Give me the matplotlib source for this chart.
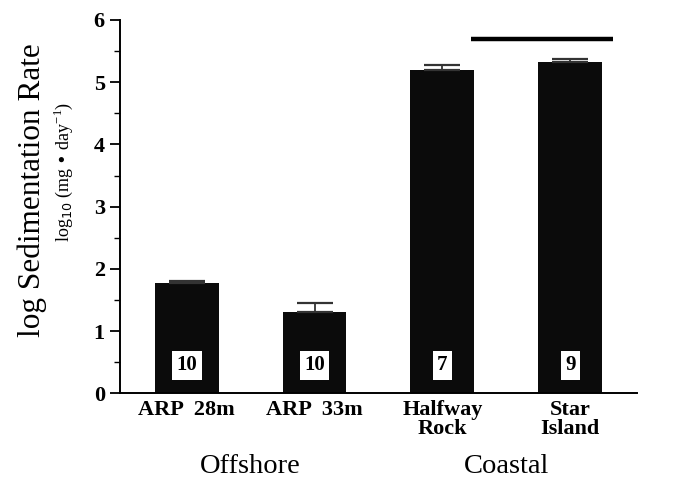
import matplotlib
matplotlib.use("Agg")
import matplotlib.pyplot as plt
from matplotlib.ticker import MultipleLocator

sites = ["ARP  28m", "ARP  33m", "Halfway\nRock", "Star\nIsland"]
means = [1.77, 1.31, 5.20, 5.33]
errors = [0.04, 0.14, 0.08, 0.05]
n_labels = ["10", "10", "7", "9"]
groups = ["Offshore", "Coastal"]
group_pos = [0.5, 2.5]
sig_span = [2.22, 3.33]
sig_y = 5.70

plt.rcParams['font.family'] = ['Liberation Serif', 'DejaVu Serif']

fig = plt.figure(figsize=(6.9, 4.87), dpi=100)
ax = fig.add_axes([0.174, 0.192, 0.749, 0.767])

x = list(range(len(sites)))
ax.bar(x, means, width=0.5, color='#0b0b0b', zorder=2)
ax.errorbar(x, means, yerr=[[0]*len(errors), errors], fmt='none',
            ecolor='#333333', elinewidth=1.3, capsize=13, capthick=1.6, zorder=3)

for xi, lab in zip(x, n_labels):
    ax.text(xi, 0.45, lab, ha='center', va='center', fontsize=15, fontweight='bold',
            bbox=dict(boxstyle='square,pad=0.22', fc='white', ec='none'), zorder=4)

ax.plot(sig_span, [sig_y, sig_y], color='black', lw=3.2, solid_capstyle='butt', zorder=3)

ax.set_xlim(-0.52, 3.52)
ax.set_ylim(0, 6)
ax.yaxis.set_major_locator(MultipleLocator(1))
ax.yaxis.set_minor_locator(MultipleLocator(0.5))
ax.set_xticks(x)
ax.set_xticklabels(sites, fontsize=16, fontweight='bold', linespacing=0.9)
ax.tick_params(axis='x', length=0, pad=5)
ax.tick_params(axis='y', which='major', length=7, width=1.3, labelsize=16, pad=4)
ax.tick_params(axis='y', which='minor', length=4, width=1.0)
for lbl in ax.get_yticklabels():
    lbl.set_fontweight('bold')

for s in ['top', 'right']:
    ax.spines[s].set_visible(False)
for s in ['left', 'bottom']:
    ax.spines[s].set_linewidth(1.4)

for g, gp in zip(groups, group_pos):
    ax.text(gp, -0.196, g, transform=ax.get_xaxis_transform(), ha='center', va='center',
            fontsize=20.5)

fig.text(32/690, 1-190/487, "log Sedimentation Rate", rotation=90, ha='center', va='center', fontsize=22.5)
fig.text(63/690, 1-172/487, r"log$_{10}$ (mg • day$^{\mathregular{-1}}$)", rotation=90,
         ha='center', va='center', fontsize=13)

fig.savefig("out.png", dpi=100)
